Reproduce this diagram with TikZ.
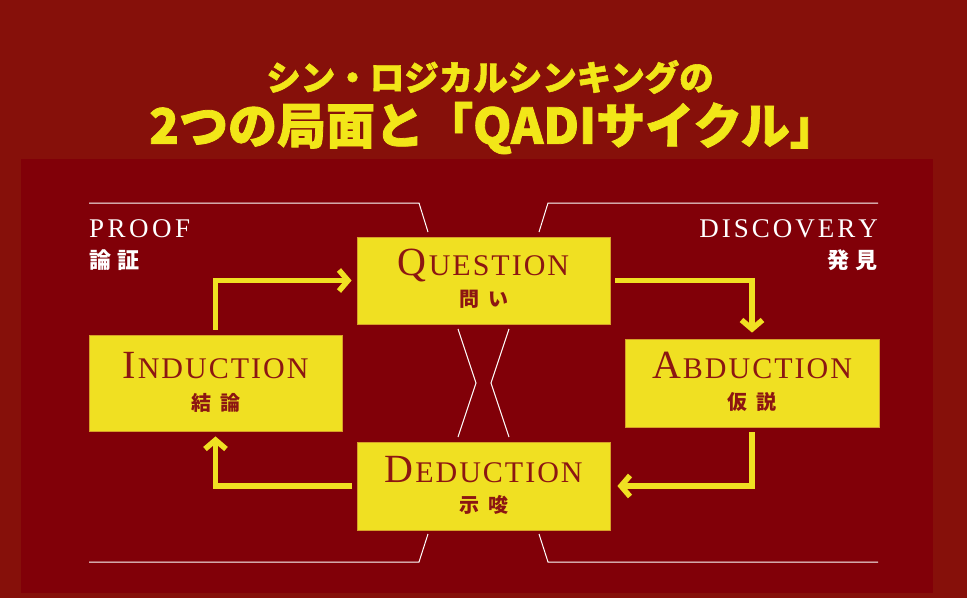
\documentclass[tikz,border=0pt]{standalone}
\usepackage{fontspec}
\newfontfamily\jpfont{Noto Sans CJK JP}
\newfontfamily\headfont{Noto Sans CJK JP}[BoldFeatures={FakeBold=1.6}]
\newfontfamily\capfont{Liberation Serif}
\usetikzlibrary{arrows.meta}
\definecolor{outerred}{RGB}{134,16,10}
\definecolor{panelred}{RGB}{129,0,8}
\definecolor{qyellow}{RGB}{240,224,34}
\definecolor{titleyellow}{RGB}{242,230,24}
\definecolor{boxline}{RGB}{214,160,40}
\definecolor{inkred}{RGB}{140,22,18}
% letter spacing by hand: \spaced{gap}{word}
\newcommand\spaced[2]{\def\spgap{#1}\spacedA#2\relax}
\def\spacedA#1{#1\futurelet\next\spacedB}
\def\spacedB{\ifx\next\relax\expandafter\spacedEnd\else\kern\spgap\expandafter\spacedA\fi}
\def\spacedEnd\relax{}
\newcommand\capword[2]{{\fontsize{40}{40}\selectfont #1}\kern2pt{\fontsize{30}{30}\selectfont\spaced{2pt}{#2}}}
\newcommand\jppair[3]{#1\hspace{#3}#2}

\begin{document}
\begin{tikzpicture}[x=1pt, y=-1pt,
	phase/.style={draw=boxline, line width=0.8pt, fill=qyellow, inner sep=0pt},
	entext/.style={text=inkred, inner sep=0pt, anchor=base, font=\capfont},
	jptext/.style={text=inkred, inner sep=0pt, font=\jpfont\bfseries\fontsize{20}{20}\selectfont},
	flow/.style={draw=qyellow, line width=5.5pt, -{Straight Barb[length=9pt, width=21pt]}},
	frame/.style={draw=white, line width=1pt},
	sidetext/.style={text=white, inner sep=0pt, font=\capfont\fontsize{27}{27}\selectfont},
	sidejp/.style={text=white, inner sep=0pt, font=\jpfont\bfseries\fontsize{22}{22}\selectfont},
	headline/.style={text=titleyellow, inner sep=0pt}]
	% Background and panel:
	\useasboundingbox (0,0) rectangle (967,598);
	\fill[outerred] (0,0) rectangle (967,598);
	\fill[panelred] (21,159) rectangle (933,593);
	% Title:
	\node[headline, font=\headfont\bfseries\fontsize{34.5}{34.5}\selectfont] (title1) at (490,77) {シン・ロジカルシンキングの};
	\node[headline, font=\headfont\bfseries\fontsize{49}{49}\selectfont] (title2) at (494,128) {2つの局面と「QADIサイクル」};
	% Side labels:
	\node[sidetext, anchor=base west] (proof) at (89,237) {\spaced{3.5pt}{PROOF}};
	\node[sidejp, anchor=base west] (proof-jp) at (89,268.5) {\jppair{論}{証}{6pt}};
	\node[sidetext, anchor=base east] (discovery) at (878,237) {\spaced{3pt}{DISCOVERY}};
	\node[sidejp, anchor=base east] (discovery-jp) at (878,268.5) {\jppair{発}{見}{6pt}};
	% Frame lines:
	\draw[frame] (89,203) -- (419,203) -- (428,232);
	\draw[frame] (539,232) -- (548,203) -- (878,203);
	\draw[frame] (428,534) -- (419,562) -- (89,562);
	\draw[frame] (539,534) -- (548,562) -- (878,562);
	\draw[frame] (458,329) -- (476,383) -- (458,437);
	\draw[frame] (509,329) -- (491,383) -- (509,437);
	% Phase boxes:
	\node[phase, minimum width=253, minimum height=87] (question) at (483.5,280.5) {};
	\node[phase, minimum width=253, minimum height=96] (induction) at (215.5,383) {};
	\node[phase, minimum width=254, minimum height=88] (abduction) at (752,383) {};
	\node[phase, minimum width=253, minimum height=88] (deduction) at (483.5,486) {};
	\node[entext] (question-en) at ([yshift=5.5pt]question.center) {\capword{Q}{UESTION}};
	\node[jptext] (question-jp) at ([yshift=-19pt]question.center) {\jppair{問}{い}{9pt}};
	\node[entext] (induction-en) at ([yshift=5pt]induction.center) {\capword{I}{NDUCTION}};
	\node[jptext] (induction-jp) at ([yshift=-19.5pt]induction.center) {\jppair{結}{論}{9pt}};
	\node[entext] (abduction-en) at ([yshift=5pt]abduction.center) {\capword{A}{BDUCTION}};
	\node[jptext] (abduction-jp) at ([yshift=-19pt]abduction.center) {\jppair{仮}{説}{9pt}};
	\node[entext] (deduction-en) at ([yshift=4pt]deduction.center) {\capword{D}{EDUCTION}};
	\node[jptext] (deduction-jp) at ([yshift=-18.5pt]deduction.center) {\jppair{示}{唆}{9pt}};
	% Cycle arrows:
	\draw[flow] ([yshift=5pt]induction.north) |- ([xshift=-5pt]question.west);
	\draw[flow] ([xshift=5pt]question.east) -| ([yshift=6pt]abduction.north);
	\draw[flow] ([yshift=-5pt]abduction.south) |- ([xshift=7pt]deduction.east);
	\draw[flow] ([xshift=-5pt]deduction.west) -| ([yshift=-5pt]induction.south);
\end{tikzpicture}
\end{document}
